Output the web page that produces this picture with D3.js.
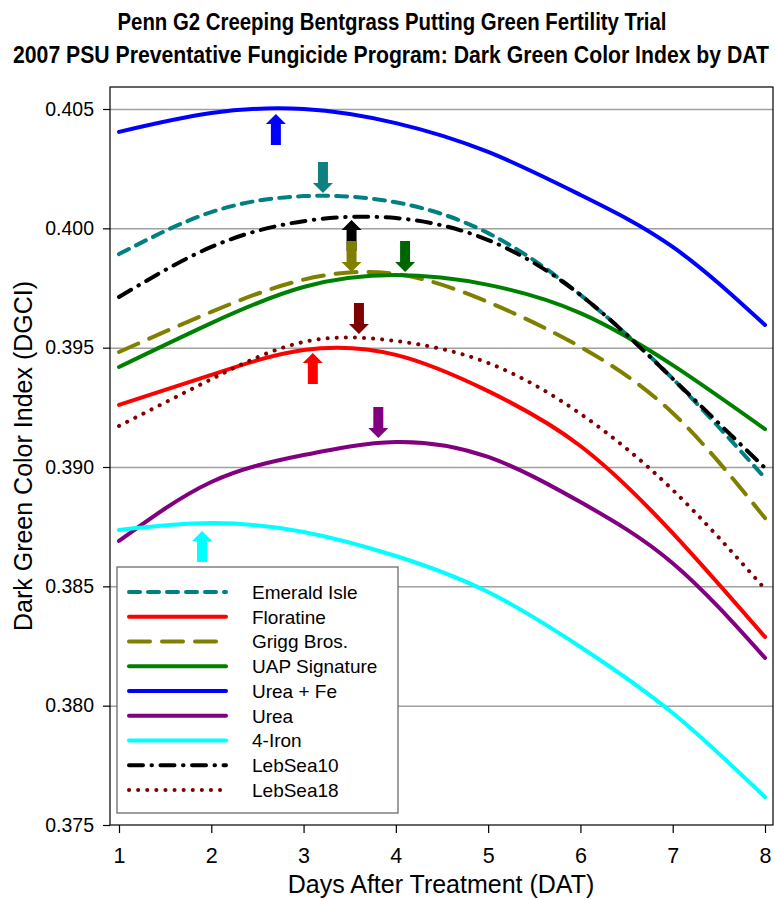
<!DOCTYPE html>
<html><head><meta charset="utf-8">
<script src="https://cdn.jsdelivr.net/npm/d3@7"></script>
<style>body{margin:0;background:#fff} svg{display:block}</style>
</head><body>
<svg id="c" width="775" height="900"></svg>
<script>
// ---------------- DATA ----------------
const days = [1, 2, 3, 4, 5, 6, 7, 8];
const yTicks = [0.375, 0.380, 0.385, 0.390, 0.395, 0.400, 0.405];
const seriesNames = ["Emerald Isle", "Floratine", "Grigg Bros.", "UAP Signature", "Urea + Fe", "Urea", "4-Iron", "LebSea10", "LebSea18"];

const emeraldIsle  = [0.39892, 0.40068, 0.40135, 0.40109, 0.39980, 0.39721, 0.39370, 0.38954];
const floratine    = [0.39260, 0.39386, 0.39490, 0.39470, 0.39318, 0.39088, 0.38723, 0.38288];
const griggBros    = [0.39482, 0.39650, 0.39785, 0.39809, 0.39691, 0.39503, 0.39226, 0.38786];
const uapSignature = [0.39419, 0.39603, 0.39754, 0.39804, 0.39763, 0.39645, 0.39427, 0.39159];
const ureaFe       = [0.40404, 0.40483, 0.40500, 0.40441, 0.40320, 0.40140, 0.39922, 0.39595];
const urea         = [0.38690, 0.38937, 0.39050, 0.39105, 0.39042, 0.38853, 0.38597, 0.38200];
const fourIron     = [0.38736, 0.38765, 0.38728, 0.38627, 0.38476, 0.38246, 0.37969, 0.37617];
const lebSea10     = [0.39712, 0.39922, 0.40030, 0.40043, 0.39951, 0.39721, 0.39370, 0.38996];
const lebSea18     = [0.39172, 0.39368, 0.39524, 0.39528, 0.39436, 0.39223, 0.38904, 0.38489];

const seriesValues = [emeraldIsle, floratine, griggBros, uapSignature, ureaFe, urea, fourIron, lebSea10, lebSea18];

// peak-marker arrows
const arrowSeries = ["Urea + Fe", "Emerald Isle", "LebSea10", "Grigg Bros.", "UAP Signature", "LebSea18", "Floratine", "Urea", "4-Iron"];
const arrowDay    = [2.70, 3.21, 3.52, 3.52, 4.10, 3.60, 3.10, 3.81, 1.90];
const arrowValue  = [0.40479, 0.40148, 0.40035, 0.39817, 0.39817, 0.39557, 0.39478, 0.39122, 0.38732];
const arrowDir    = ["up", "down", "up", "down", "down", "down", "up", "down", "up"];

// ---------------- STYLES ----------------
const styleMap = {
  "Emerald Isle":  {color: "#008080", dash: "11,8", cap: "round"},
  "Floratine":     {color: "#ff0000", dash: null,   cap: "round"},
  "Grigg Bros.":   {color: "#808000", dash: "21,12", cap: "round"},
  "UAP Signature": {color: "#008000", dash: null,   cap: "round"},
  "Urea + Fe":     {color: "#0000ff", dash: null,   cap: "round"},
  "Urea":          {color: "#800080", dash: null,   cap: "round"},
  "4-Iron":        {color: "#00ffff", dash: null,   cap: "round"},
  "LebSea10":      {color: "#000000", dash: "14,8.5,0.5,8.5", cap: "round"},
  "LebSea18":      {color: "#800000", dash: "0.1,9", cap: "round"}
};
const arrowColor = {
  "Urea + Fe": "#0000ff", "Emerald Isle": "#0d8080", "LebSea10": "#000000",
  "Grigg Bros.": "#808000", "UAP Signature": "#006400", "LebSea18": "#800000",
  "Floratine": "#ff0000", "Urea": "#800080", "4-Iron": "#00ffff"
};

const FONT = "'Liberation Sans', Arial, sans-serif";
const plot = {left: 110, right: 773, top: 87, bottom: 825};

const svg = d3.select("#c");
svg.append("rect").attr("width", 775).attr("height", 900).attr("fill", "#fff");

const x = d3.scaleLinear().domain([1, 8]).range([119, 765]);
const y = d3.scaleLinear().domain([0.375, 0.405]).range([825, 109]);

// gridlines
svg.append("g")
  .attr("transform", `translate(${plot.left},0)`)
  .call(d3.axisLeft(y).tickValues(yTicks.filter(v => v > 0.375)).tickSize(-(plot.right - plot.left)).tickFormat(""))
  .call(g => g.select(".domain").remove())
  .call(g => g.selectAll("line").attr("stroke", "#a0a0a0").attr("stroke-width", 1.5));

// frame
svg.append("rect")
  .attr("x", plot.left).attr("y", plot.top)
  .attr("width", plot.right - plot.left).attr("height", plot.bottom - plot.top)
  .attr("fill", "none").attr("stroke", "#000").attr("stroke-width", 1.2);

// y axis
svg.append("g")
  .attr("transform", `translate(${plot.left},0)`)
  .call(d3.axisLeft(y).tickValues(yTicks).tickFormat(d3.format(".3f")).tickSize(7).tickPadding(9))
  .call(g => g.select(".domain").remove())
  .call(g => g.selectAll("line").attr("stroke", "#000").attr("stroke-width", 1.2))
  .call(g => g.selectAll("text").attr("font-family", FONT).attr("font-size", 19.5).attr("fill", "#000"));

// x axis
svg.append("g")
  .attr("transform", `translate(0,${plot.bottom})`)
  .call(d3.axisBottom(x).tickValues(days).tickFormat(d3.format("d")).tickSize(8).tickPadding(15))
  .call(g => g.select(".domain").remove())
  .call(g => g.selectAll("line").attr("stroke", "#000").attr("stroke-width", 1.2))
  .call(g => g.selectAll("text").attr("font-family", FONT).attr("font-size", 21.5).attr("fill", "#000"));

// lines
const line = d3.line().x((d, i) => x(days[i])).y(d => y(d)).curve(d3.curveNatural);
seriesNames.forEach((name, k) => {
  const s = styleMap[name];
  svg.append("path")
    .attr("d", line(seriesValues[k]))
    .attr("fill", "none")
    .attr("stroke", s.color)
    .attr("stroke-width", 4)
    .attr("stroke-linecap", s.cap)
    .attr("stroke-linejoin", "round")
    .attr("stroke-dasharray", s.dash);
});

// arrows
function arrowPath(dir) {
  const s = dir === "up" ? 1 : -1;
  const pts = [[0, 0], [10, 10 * s], [5, 10 * s], [5, 31 * s], [-5, 31 * s], [-5, 10 * s], [-10, 10 * s]];
  return "M" + pts.map(p => p.join(",")).join("L") + "Z";
}
arrowSeries.forEach((name, i) => {
  svg.append("path")
    .attr("transform", `translate(${x(arrowDay[i])},${y(arrowValue[i])})`)
    .attr("d", arrowPath(arrowDir[i]))
    .attr("fill", arrowColor[name]);
});

// legend
const lg = svg.append("g");
lg.append("rect").attr("x", 117).attr("y", 567).attr("width", 281).attr("height", 246)
  .attr("fill", "#fff").attr("stroke", "#606060").attr("stroke-width", 1.2);
seriesNames.forEach((name, i) => {
  const s = styleMap[name];
  const yy = 592 + i * 24.75;
  lg.append("line").attr("x1", 129).attr("x2", 226).attr("y1", yy).attr("y2", yy)
    .attr("stroke", s.color).attr("stroke-width", 4).attr("stroke-linecap", s.cap)
    .attr("stroke-dasharray", s.dash);
  lg.append("text").attr("x", 252).attr("y", yy).attr("dy", "0.36em")
    .attr("font-family", FONT).attr("font-size", 19).text(name);
});

// titles (condensed look: smaller font stretched vertically)
const TFONT = "'Liberation Sans Narrow', 'Arial Narrow', 'Liberation Sans', Arial, sans-serif";
svg.append("text").attr("transform", "translate(392,30) scale(1,1.22)").attr("text-anchor", "middle")
  .attr("font-family", TFONT).attr("font-weight", "bold").attr("font-size", 19)
  .attr("textLength", 549).attr("lengthAdjust", "spacingAndGlyphs")
  .text("Penn G2 Creeping Bentgrass Putting Green Fertility Trial");
svg.append("text").attr("transform", "translate(391,63) scale(1,1.22)").attr("text-anchor", "middle")
  .attr("font-family", TFONT).attr("font-weight", "bold").attr("font-size", 19)
  .attr("textLength", 756).attr("lengthAdjust", "spacingAndGlyphs")
  .text("2007 PSU Preventative Fungicide Program: Dark Green Color Index by DAT");

svg.append("text")
  .attr("transform", `translate(32,456) rotate(-90)`)
  .attr("text-anchor", "middle")
  .attr("font-family", FONT).attr("font-size", 25)
  .text("Dark Green Color Index (DGCI)");
svg.append("text").attr("x", 441).attr("y", 893).attr("text-anchor", "middle")
  .attr("font-family", FONT).attr("font-size", 25)
  .text("Days After Treatment (DAT)");
</script>
</body></html>
